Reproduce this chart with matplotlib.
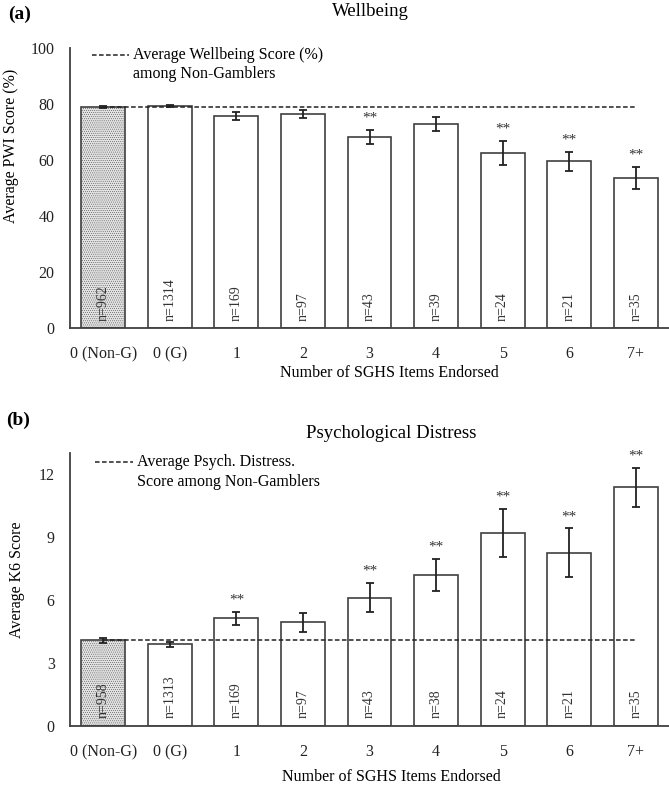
import numpy as np
import matplotlib
matplotlib.use("Agg")
import matplotlib.pyplot as plt

plt.rcParams['font.family'] = ['Liberation Serif', 'DejaVu Serif']
plt.rcParams['hatch.color'] = '#bdbdbd'
plt.rcParams['hatch.linewidth'] = 0.3

categories = ["0 (Non-G)", "0 (G)", "1", "2", "3", "4", "5", "6", "7+"]

# panel (a) wellbeing
pwi_mean = [78.9, 79.3, 75.7, 76.4, 68.2, 72.9, 62.5, 59.6, 53.6]
pwi_err = [0.5, 0.4, 1.3, 1.5, 2.5, 2.5, 4.4, 3.4, 3.9]
pwi_n = [962, 1314, 169, 97, 43, 39, 24, 21, 35]
pwi_sig = [False, False, False, False, True, False, True, True, True]
pwi_ref = 78.9

# panel (b) psychological distress
k6_mean = [4.08, 3.89, 5.12, 4.93, 6.11, 7.20, 9.19, 8.25, 11.37]
k6_err = [0.13, 0.11, 0.33, 0.47, 0.69, 0.76, 1.16, 1.16, 0.93]
k6_n = [958, 1313, 169, 97, 43, 38, 24, 21, 35]
k6_sig = [False, False, True, False, True, True, True, True, True]
k6_ref = 4.08

edge = '#404040'
W, H = 669, 786
fig = plt.figure(figsize=(W / 100, H / 100), dpi=100)


def px_axes(left, top, right, bottom):
    return fig.add_axes([left / W, 1 - bottom / H, (right - left) / W, (bottom - top) / H])


def draw_panel(ax, means, errs, ns, sig, ref, ymax, yticks, n_off, star_off):
    x = np.arange(len(categories))
    colors = ['#e2e2e2'] + ['white'] * (len(categories) - 1)
    bars = ax.bar(x, means, width=0.66, color=colors, edgecolor=edge, linewidth=1.2, zorder=2)
    bars[0].set_hatch('........')
    ax.errorbar(x, means, yerr=errs, fmt='none', ecolor='#222222', elinewidth=1.3,
                capsize=2.6, capthick=1.3, zorder=4)
    ax.plot([x[0], x[-1]], [ref, ref], color='#222222', lw=1.1,
            linestyle=(0, (3, 1.6)), zorder=3)
    for xi, m, e, n, s in zip(x, means, errs, ns, sig):
        ax.text(xi, n_off, f"n={n}", rotation=90, ha='center', va='bottom',
                fontsize=10, color='#333333', zorder=5)
        if s:
            ax.text(xi, m + e + star_off, "**", ha='center', va='bottom',
                    fontsize=11, color='#333333')
    ax.set_xlim(-0.5, len(categories) - 0.5)
    ax.set_ylim(0, ymax)
    ax.set_yticks(yticks)
    ax.set_xticks(x)
    ax.set_xticklabels(categories)
    ax.tick_params(length=0, labelsize=11.5, colors='#222222')
    ax.tick_params(axis='x', pad=13)
    ax.tick_params(axis='y', pad=11)
    for sp in ['top', 'right']:
        ax.spines[sp].set_visible(False)
    for sp in ['left', 'bottom']:
        ax.spines[sp].set_color(edge)
        ax.spines[sp].set_linewidth(1.3)


# panel (a)
ax1 = px_axes(70, 48, 669, 328)
draw_panel(ax1, pwi_mean, pwi_err, pwi_n, pwi_sig, pwi_ref, 100, [0, 20, 40, 60, 80, 100], 2.5, 1.8)
fig.text(8 / W, 1 - 14 / H, "(a)", fontsize=14, fontweight='bold', va='center')
fig.text(370 / W, 1 - 11 / H, "Wellbeing", fontsize=13.5, ha='center', va='center')
fig.text(389 / W, 1 - 373 / H, "Number of SGHS Items Endorsed", fontsize=11.5, ha='center', va='center')
fig.text(11 / W, 1 - 146 / H, "Average PWI Score (%)", fontsize=11.5, rotation=90, ha='center', va='center')
fig.lines.append(plt.Line2D([92 / W, 129 / W], [1 - 55 / H, 1 - 55 / H], transform=fig.transFigure,
                            color='#222222', lw=1.1, linestyle=(0, (3, 1.6))))
fig.text(133 / W, 1 - 55 / H, "Average Wellbeing Score (%)", fontsize=11.5, va='center')
fig.text(133 / W, 1 - 74 / H, "among Non-Gamblers", fontsize=11.5, va='center')

# panel (b)
ax2 = px_axes(70, 453, 669, 726)
draw_panel(ax2, k6_mean, k6_err, k6_n, k6_sig, k6_ref, 13, [0, 3, 6, 9, 12], 0.4, 0.25)
fig.text(6 / W, 1 - 420 / H, "(b)", fontsize=14, fontweight='bold', va='center')
fig.text(391 / W, 1 - 433 / H, "Psychological Distress", fontsize=13.5, ha='center', va='center')
fig.text(391 / W, 1 - 777 / H, "Number of SGHS Items Endorsed", fontsize=11.5, ha='center', va='center')
fig.text(17 / W, 1 - 580 / H, "Average K6 Score", fontsize=11.5, rotation=90, ha='center', va='center')
fig.lines.append(plt.Line2D([95 / W, 133 / W], [1 - 462 / H, 1 - 462 / H], transform=fig.transFigure,
                            color='#222222', lw=1.1, linestyle=(0, (3, 1.6))))
fig.text(137 / W, 1 - 462 / H, "Average Psych. Distress.", fontsize=11.5, va='center')
fig.text(137 / W, 1 - 482 / H, "Score among Non-Gamblers", fontsize=11.5, va='center')

fig.savefig("out.png", dpi=100)
